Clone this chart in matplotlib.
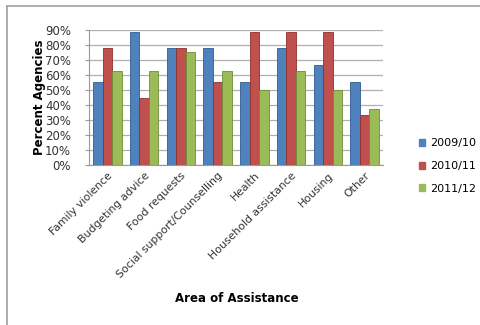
import matplotlib
matplotlib.use("Agg")
import matplotlib.pyplot as plt
import numpy as np
from matplotlib.lines import Line2D
from matplotlib.patches import Patch

categories = ["Family violence", "Budgeting advice", "Food requests",
              "Social support/Counselling", "Health", "Household assistance",
              "Housing", "Other"]
series_names = ["2009/10", "2010/11", "2011/12"]
v2009 = [55.6, 88.9, 77.8, 77.8, 55.6, 77.8, 66.7, 55.6]
v2010 = [77.8, 44.4, 77.8, 55.6, 88.9, 88.9, 88.9, 33.3]
v2011 = [62.5, 62.5, 75.0, 62.5, 50.0, 62.5, 50.0, 37.5]
yticks = [0, 10, 20, 30, 40, 50, 60, 70, 80, 90]
colors = ["#4F81BD", "#C0504D", "#9BBB59"]
edges = ["#2E5C8F", "#8E2F2C", "#6E8C38"]

fig = plt.figure(figsize=(4.8, 3.25), dpi=100)
ax = fig.add_axes([89/480, 1-165/325, (383-89)/480, (165-30)/325])

x = np.arange(len(categories))
w = 0.26
for i, vals in enumerate([v2009, v2010, v2011]):
    ax.bar(x + (i-1)*w, vals, width=w, color=colors[i], edgecolor=edges[i],
           linewidth=0.6, zorder=3, label=series_names[i])

ax.set_ylim(0, 90)
ax.set_xlim(-0.5, len(categories)-0.5)
ax.set_yticks(yticks)
ax.set_yticklabels([f"{t}%" for t in yticks], fontsize=8.5, color="#333333")
ax.yaxis.grid(True, color="#B0B0B0", linewidth=0.9, zorder=0)
ax.set_xticks(x)
ax.set_xticklabels(categories, rotation=45, ha="right", rotation_mode="anchor",
                   fontsize=7.8, color="#333333")
ax.tick_params(axis="x", length=0, pad=4)
ax.tick_params(axis="y", length=3, color="#999999", pad=10)
for s in ["top", "right"]:
    ax.spines[s].set_visible(False)
for s in ["left", "bottom"]:
    ax.spines[s].set_color("#999999")
ax.set_ylabel("Percent Agencies", fontsize=8.5, fontweight="bold", labelpad=2)
ax.yaxis.set_label_coords((46-89)/(383-89), 0.5)
fig.text((90+383)/2/480, 1-298/325, "Area of Assistance", fontsize=8.5,
         fontweight="bold", ha="center", va="center")

handles = [Patch(facecolor=c, edgecolor=c) for c in colors]
fig.legend(handles, series_names, loc="center left",
           bbox_to_anchor=(411/480, 1-166/325), frameon=False, fontsize=8,
           handlelength=0.6, handleheight=0.6, labelspacing=1.15, handletextpad=0.4,
           borderpad=0.2)

fig.add_artist(Line2D([7/480, 7/480], [0, 1-6/325], color="#A0A0A0", linewidth=1.2))
fig.add_artist(Line2D([7/480, 1], [1-6/325, 1-6/325], color="#A0A0A0", linewidth=1.2))

fig.savefig("out.png", dpi=100)
